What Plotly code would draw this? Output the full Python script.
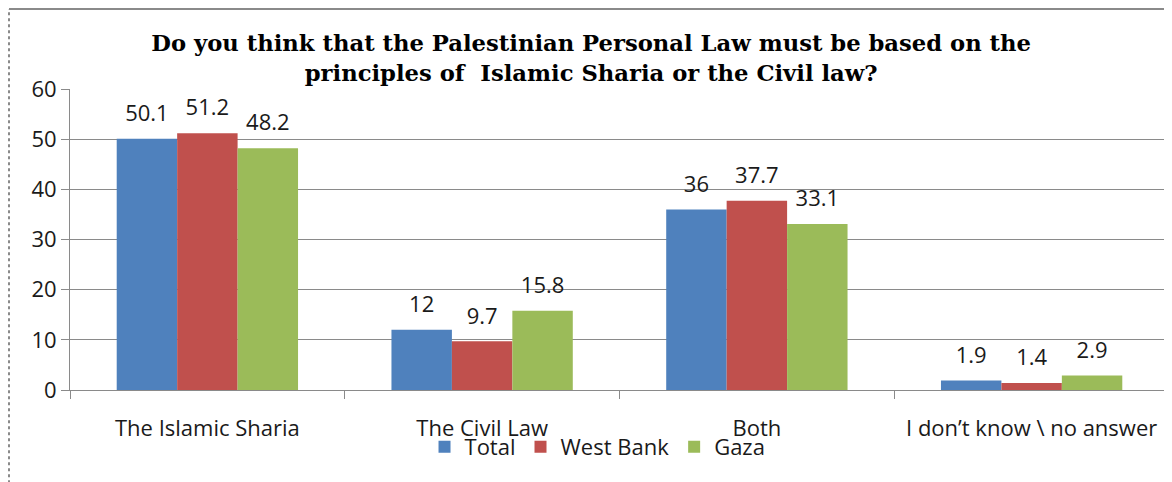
import plotly.graph_objects as go

categories = ["The Islamic Sharia", "The Civil Law", "Both", "I don\u2019t know \\ no answer"]
series_names = ["Total", "West Bank", "Gaza"]
total = [50.1, 12, 36, 1.9]
west_bank = [51.2, 9.7, 37.7, 1.4]
gaza = [48.2, 15.8, 33.1, 2.9]
colors = ["#4F81BD", "#C0504D", "#9BBB59"]
y_ticks = [0, 10, 20, 30, 40, 50, 60]

FONT = "'Open Sans', Lato, sans-serif"
GRAY = "#8a8a8a"

fig = go.Figure()
for i, (name, vals, col) in enumerate(zip(series_names, [total, west_bank, gaza], colors)):
    fig.add_trace(go.Bar(
        name=name, x=categories, y=vals, marker=dict(color=col, line=dict(width=0)),
        offsetgroup=str(i), hoverinfo="x+y+name",
    ))
for i, (name, vals) in enumerate(zip(series_names, [total, west_bank, gaza])):
    fig.add_trace(go.Scatter(
        x=categories, y=vals, mode="markers+text", offsetgroup=str(i),
        text=[f"{v:g}" for v in vals], textposition="top center",
        marker=dict(size=18, color="rgba(0,0,0,0)"),
        textfont=dict(family=FONT, size=22, color="#1a1a1a"),
        showlegend=False, hoverinfo="skip", cliponaxis=False,
    ))

# page body has an 8px margin, so the figure is sized/offset to compensate
fig.update_layout(
    template="none",
    width=1164, height=474,
    margin=dict(l=62, r=3, t=81, b=92, autoexpand=False),
    paper_bgcolor="white", plot_bgcolor="white",
    barmode="group", bargap=0.34, bargroupgap=0,
    scattermode="group", scattergap=0.34,
    title=dict(
        text="<b>Do you think that the Palestinian Personal Law must be based on the<br>principles of  Islamic Sharia or the Civil law?</b>",
        x=0.501, xref="container", xanchor="center",
        y=0.909, yref="container", yanchor="top",
        font=dict(family="'DejaVu Serif', 'Liberation Serif', serif", size=22.7, color="#000000"),
    ),
    showlegend=True,
    legend=dict(
        orientation="h", x=0.48, xanchor="center", y=-0.189, yanchor="middle",
        font=dict(family=FONT, size=22, color="#1a1a1a"),
        bgcolor="rgba(0,0,0,0)", itemwidth=30, tracegroupgap=0,
    ),
    font=dict(family=FONT, color="#1a1a1a"),
    shapes=[
        dict(type="line", xref="paper", yref="paper", x0=-0.0555, x1=1.01, y0=1.2658, y1=1.2658,
             line=dict(color=GRAY, width=2)),
        dict(type="line", xref="paper", yref="paper", x0=-0.0555, x1=-0.0555, y0=-0.31, y1=1.2658,
             line=dict(color=GRAY, width=2, dash="dot")),
    ],
)

fig.update_xaxes(
    automargin=False,
    showline=True, linecolor=GRAY, linewidth=1,
    ticks="outside", tickson="boundaries", ticklen=8, tickcolor=GRAY,
    ticklabelstandoff=19,
    tickfont=dict(family=FONT, size=22, color="#1a1a1a"),
    showgrid=False, zeroline=False,
)
fig.update_yaxes(
    automargin=False,
    range=[0, 60], tickvals=y_ticks,
    showline=True, linecolor=GRAY, linewidth=1,
    ticks="outside", ticklen=8, tickcolor=GRAY,
    showgrid=True, gridcolor=GRAY, gridwidth=1,
    zeroline=False,
    tickfont=dict(family=FONT, size=22, color="#1a1a1a"),
)

fig.write_html("out.html")
